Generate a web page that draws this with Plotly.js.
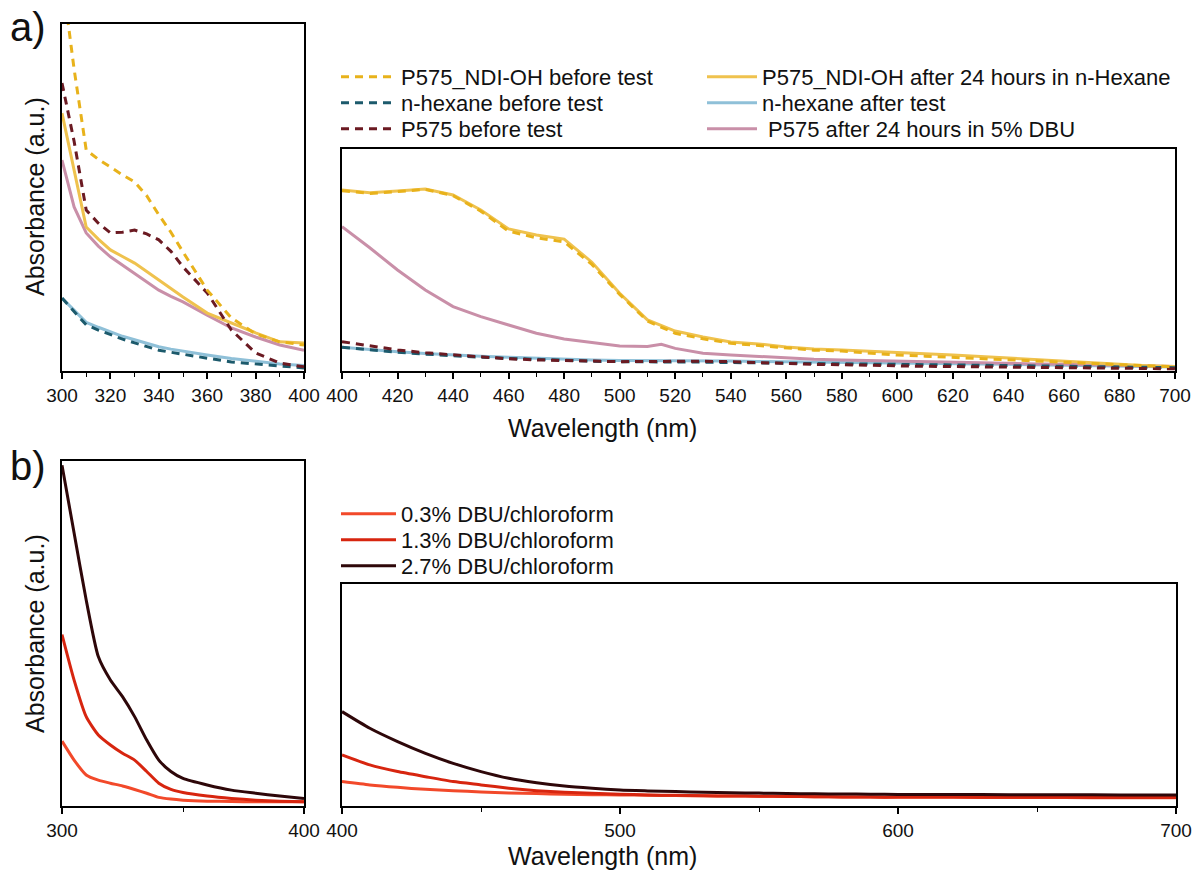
<!DOCTYPE html>
<html>
<head>
<meta charset="utf-8">
<script src="https://cdn.plot.ly/plotly-3.0.1.min.js"></script>
<style>html,body{margin:0;padding:0;background:#fff;}#chart{width:1193px;height:872px;}</style>
</head>
<body>
<div id="chart"></div>
<script>
// ---------- Data (absorbance, arbitrary units) ----------
// Panel a, UV region (300-400 nm)
const wlA_UV = [300,305,310,315,320,325,330,335,340,345,350,360,370,380,390,400];
const ndiBefore_UV  = [1.14,0.87,0.637,0.61,0.588,0.565,0.545,0.505,0.45,0.40,0.343,0.233,0.153,0.107,0.084,0.075];
const ndiAfter_UV   = [0.743,0.579,0.415,0.38,0.349,0.33,0.311,0.287,0.262,0.238,0.213,0.167,0.138,0.11,0.084,0.081];
const hexBefore_UV  = [0.21,0.17,0.133,0.118,0.104,0.092,0.081,0.07,0.06,0.054,0.049,0.037,0.026,0.02,0.014,0.009];
const hexAfter_UV   = [0.21,0.175,0.14,0.126,0.112,0.10,0.09,0.08,0.07,0.063,0.057,0.046,0.036,0.028,0.02,0.016];
const p575Before_UV = [0.83,0.662,0.464,0.426,0.398,0.40,0.406,0.395,0.378,0.345,0.30,0.225,0.118,0.052,0.023,0.012];
const p575After_UV  = [0.608,0.473,0.398,0.36,0.329,0.305,0.282,0.257,0.233,0.215,0.199,0.161,0.124,0.098,0.075,0.06];

// Panel a, visible region (400-700 nm)
const wlA_Vis = [400,410,420,430,440,450,460,470,480,490,500,510,520,530,540,550,560,570,580,590,600,610,620,630,640,650,660,670,680,690,700];
const ndiBefore_Vis  = [0.812,0.80,0.808,0.818,0.79,0.72,0.63,0.60,0.582,0.48,0.345,0.225,0.17,0.145,0.125,0.115,0.102,0.094,0.09,0.08,0.072,0.067,0.062,0.056,0.05,0.045,0.04,0.034,0.028,0.024,0.02];
const ndiAfter_Vis   = [0.815,0.803,0.811,0.82,0.793,0.725,0.64,0.613,0.594,0.49,0.35,0.23,0.18,0.153,0.131,0.122,0.108,0.099,0.095,0.09,0.084,0.078,0.072,0.065,0.058,0.052,0.045,0.037,0.03,0.024,0.02];
const hexBefore_Vis  = [0.107,0.095,0.084,0.076,0.068,0.062,0.057,0.052,0.047,0.044,0.042,0.042,0.042,0.04,0.038,0.036,0.035,0.034,0.033,0.031,0.03,0.029,0.027,0.026,0.025,0.023,0.021,0.02,0.018,0.016,0.015];
const hexAfter_Vis   = [0.107,0.096,0.087,0.079,0.072,0.067,0.062,0.057,0.052,0.049,0.047,0.047,0.047,0.046,0.045,0.043,0.042,0.041,0.04,0.038,0.037,0.035,0.033,0.032,0.03,0.028,0.026,0.024,0.022,0.02,0.018];
const p575Before_Vis = [0.132,0.112,0.095,0.082,0.072,0.063,0.055,0.05,0.047,0.044,0.042,0.043,0.045,0.044,0.042,0.037,0.032,0.03,0.028,0.025,0.022,0.021,0.02,0.019,0.018,0.016,0.015,0.014,0.012,0.011,0.01];
const wlA_VisPink = [400,410,420,430,440,450,460,470,480,490,500,510,515,520,530,540,550,560,570,580,590,600,610,620,630,640,650,660,670,680,690,700];
const p575After_Vis  = [0.65,0.555,0.455,0.365,0.29,0.245,0.207,0.17,0.144,0.129,0.113,0.11,0.12,0.102,0.08,0.072,0.065,0.057,0.053,0.05,0.047,0.045,0.042,0.04,0.037,0.035,0.032,0.03,0.027,0.025,0.022,0.02];

// Panel b, UV region
const wlB_UV = [300,305,310,315,320,325,330,335,340,345,350,360,370,380,390,400];
const dbu03_UV = [0.188,0.133,0.09,0.075,0.066,0.058,0.048,0.037,0.025,0.02,0.017,0.014,0.013,0.012,0.012,0.012];
const dbu13_UV = [0.497,0.365,0.259,0.206,0.177,0.153,0.133,0.10,0.066,0.048,0.039,0.029,0.022,0.017,0.014,0.012];
const dbu27_UV = [0.988,0.791,0.597,0.433,0.365,0.317,0.259,0.191,0.133,0.10,0.08,0.061,0.046,0.037,0.029,0.022];

// Panel b, visible region
const wlB_Vis = [400,410,420,430,440,450,460,470,480,490,500,510,520,530,540,550,560,570,580,590,600,620,640,660,680,700];
const dbu03_Vis = [0.11,0.095,0.084,0.075,0.069,0.063,0.059,0.056,0.053,0.051,0.05,0.048,0.047,0.046,0.045,0.044,0.043,0.042,0.041,0.04,0.039,0.039,0.038,0.038,0.037,0.037];
const dbu13_Vis = [0.23,0.185,0.155,0.132,0.11,0.095,0.08,0.069,0.062,0.057,0.053,0.05,0.048,0.046,0.045,0.044,0.043,0.042,0.041,0.04,0.04,0.04,0.039,0.039,0.038,0.038];
const dbu27_Vis = [0.425,0.35,0.29,0.237,0.192,0.155,0.125,0.105,0.09,0.08,0.072,0.068,0.065,0.062,0.06,0.058,0.056,0.055,0.054,0.053,0.052,0.052,0.051,0.051,0.05,0.05];

// Labels
const legendA = ["P575_NDI-OH before test","P575_NDI-OH after 24 hours in n-Hexane","n-hexane before test","n-hexane after test","P575 before test","\u00a0P575 after 24 hours in 5% DBU"];
const legendB = ["0.3% DBU/chloroform","1.3% DBU/chloroform","2.7% DBU/chloroform"];
const ticksA_UV = [300,320,340,360,380,400];
const ticksA_Vis = [400,420,440,460,480,500,520,540,560,580,600,620,640,660,680,700];
const ticksB_UV = [300,400];
const ticksB_Vis = [400,500,600,700];

// ---------- Styles ----------
const DASH = '8px,6px';
const LW = 3;
const cNdiB = '#E8B21B', cNdiA = '#EFC24E', cHexB = '#1C5A6C', cHexA = '#8FC0D8', cP5B = '#6B1A22', cP5A = '#C98FA8';
const cD03 = '#F2492A', cD13 = '#D7250F', cD27 = '#2E0709';

function tr(x, y, xa, ya, name, color, dash, show, group, leg, smooth) {
  const line = {color: color, width: LW, dash: dash || 'solid'};
  if (smooth) { line.shape = 'spline'; line.smoothing = 0.6; }
  return {x: x, y: y, xaxis: xa, yaxis: ya, name: name, type: 'scatter', mode: 'lines',
    line: line, showlegend: show, legendgroup: group, legend: leg, hoverinfo: 'x+y+name'};
}

const data = [
  // panel a, visible (solid lines drawn first, dashed on top)
  tr(wlA_Vis, hexAfter_Vis, 'x2', 'y2', legendA[3], cHexA, null, true, 'g3', 'legend8'),
  tr(wlA_VisPink, p575After_Vis, 'x2', 'y2', legendA[5], cP5A, null, true, 'g5', 'legend9'),
  tr(wlA_Vis, ndiAfter_Vis, 'x2', 'y2', legendA[1], cNdiA, null, true, 'g1', 'legend7'),
  tr(wlA_Vis, hexBefore_Vis, 'x2', 'y2', legendA[2], cHexB, DASH, false, 'g2', 'legend3'),
  tr(wlA_Vis, p575Before_Vis, 'x2', 'y2', legendA[4], cP5B, DASH, false, 'g4', 'legend4'),
  tr(wlA_Vis, ndiBefore_Vis, 'x2', 'y2', legendA[0], cNdiB, DASH, false, 'g0', 'legend'),
  // panel a, UV
  tr(wlA_UV, hexAfter_UV, 'x', 'y', legendA[3], cHexA, null, false, 'g3', 'legend8'),
  tr(wlA_UV, hexBefore_UV, 'x', 'y', legendA[2], cHexB, DASH, true, 'g2', 'legend3'),
  tr(wlA_UV, p575After_UV, 'x', 'y', legendA[5], cP5A, null, false, 'g5', 'legend9'),
  tr(wlA_UV, ndiAfter_UV, 'x', 'y', legendA[1], cNdiA, null, false, 'g1', 'legend7'),
  tr(wlA_UV, p575Before_UV, 'x', 'y', legendA[4], cP5B, DASH, true, 'g4', 'legend4'),
  tr(wlA_UV, ndiBefore_UV, 'x', 'y', legendA[0], cNdiB, DASH, true, 'g0', 'legend'),
  // panel b
  tr(wlB_Vis, dbu03_Vis, 'x4', 'y4', legendB[0], cD03, null, true, 'b0', 'legend2', true),
  tr(wlB_Vis, dbu13_Vis, 'x4', 'y4', legendB[1], cD13, null, true, 'b1', 'legend5', true),
  tr(wlB_Vis, dbu27_Vis, 'x4', 'y4', legendB[2], cD27, null, true, 'b2', 'legend6', true),
  tr(wlB_UV, dbu03_UV, 'x3', 'y3', legendB[0], cD03, null, false, 'b0', 'legend2', true),
  tr(wlB_UV, dbu13_UV, 'x3', 'y3', legendB[1], cD13, null, false, 'b1', 'legend5', true),
  tr(wlB_UV, dbu27_UV, 'x3', 'y3', legendB[2], cD27, null, false, 'b2', 'legend6', true)
];

const W = 1193, H = 872;
const px = v => v / W, py = v => 1 - v / H;
const FONT = 'Arial, "Liberation Sans", Helvetica, sans-serif';

function xax(domain, range, tickvals, minorDtick, anchor) {
  return {domain: domain, range: range, anchor: anchor, showline: true, linecolor: '#000', linewidth: 2,
    mirror: true, ticks: 'outside', ticklen: 6, tickwidth: 1.6, tickcolor: '#000',
    tickmode: 'array', tickvals: tickvals, ticklabelstandoff: 0,
    tickfont: {family: FONT, size: 19, color: '#111'},
    minor: {dtick: minorDtick, tick0: range[0], ticks: 'outside', ticklen: 4, tickwidth: 1.4, tickcolor: '#000', showgrid: false},
    showgrid: false, zeroline: false, fixedrange: true};
}
function yax(domain, range, anchor) {
  return {domain: domain, range: range, anchor: anchor, showline: true, linecolor: '#000', linewidth: 2,
    mirror: true, ticks: '', showticklabels: false, showgrid: false, zeroline: false, fixedrange: true};
}
function leg(xPix, yPix, iw) {
  return {x: px(xPix), y: py(yPix), xanchor: 'left', yanchor: 'middle', orientation: 'h',
    itemwidth: iw, font: {family: FONT, size: 22, color: '#111'}, bgcolor: 'rgba(0,0,0,0)', borderwidth: 0};
}

const layout = {
  width: W, height: H,
  margin: {l: 0, r: 0, t: 0, b: 0, autoexpand: false},
  paper_bgcolor: '#fff', plot_bgcolor: '#fff',
  font: {family: FONT, color: '#111'},
  xaxis:  xax([px(62), px(304)], [300, 400], ticksA_UV, 10, 'y'),
  yaxis:  yax([py(371), py(24)], [0, 1], 'x'),
  xaxis2: xax([px(342), px(1175)], [400, 700], ticksA_Vis, 10, 'y2'),
  yaxis2: yax([py(371), py(149)], [0, 1], 'x2'),
  xaxis3: xax([px(62), px(304)], [300, 400], ticksB_UV, 50, 'y3'),
  yaxis3: yax([py(806), py(461)], [0, 1], 'x3'),
  xaxis4: xax([px(342), px(1176)], [400, 700], ticksB_Vis, 50, 'y4'),
  yaxis4: yax([py(806), py(584)], [0, 1], 'x4'),
  // panel a legend: column 1 (dashed) and column 2 (solid), three rows
  legend:  leg(336, 77, 55),
  legend3: leg(336, 103, 55),
  legend4: leg(336, 129, 55),
  legend7: leg(702, 77, 50),
  legend8: leg(702, 103, 50),
  legend9: leg(702, 129, 50),
  // panel b legend
  legend2: leg(336, 514, 55),
  legend5: leg(336, 540, 55),
  legend6: leg(336, 566, 55),
  annotations: [
    {text: 'a)', x: px(8), y: py(27), xref: 'paper', yref: 'paper', xanchor: 'left', yanchor: 'middle', showarrow: false, font: {family: FONT, size: 40, color: '#111'}},
    {text: 'b)', x: px(8), y: py(466), xref: 'paper', yref: 'paper', xanchor: 'left', yanchor: 'middle', showarrow: false, font: {family: FONT, size: 40, color: '#111'}},
    {text: 'Absorbance (a.u.)', x: px(35), y: py(197), xref: 'paper', yref: 'paper', xanchor: 'center', yanchor: 'middle', textangle: -90, showarrow: false, font: {family: FONT, size: 25, color: '#111'}},
    {text: 'Absorbance (a.u.)', x: px(35), y: py(634), xref: 'paper', yref: 'paper', xanchor: 'center', yanchor: 'middle', textangle: -90, showarrow: false, font: {family: FONT, size: 25, color: '#111'}},
    {text: 'Wavelength (nm)', x: px(603), y: py(428), xref: 'paper', yref: 'paper', xanchor: 'center', yanchor: 'middle', showarrow: false, font: {family: FONT, size: 25, color: '#111'}},
    {text: 'Wavelength (nm)', x: px(603), y: 0, xref: 'paper', yref: 'paper', xanchor: 'center', yanchor: 'bottom', showarrow: false, font: {family: FONT, size: 25, color: '#111'}}
  ]
};

Plotly.newPlot('chart', data, layout, {displayModeBar: false, responsive: false});
</script>
</body>
</html>
